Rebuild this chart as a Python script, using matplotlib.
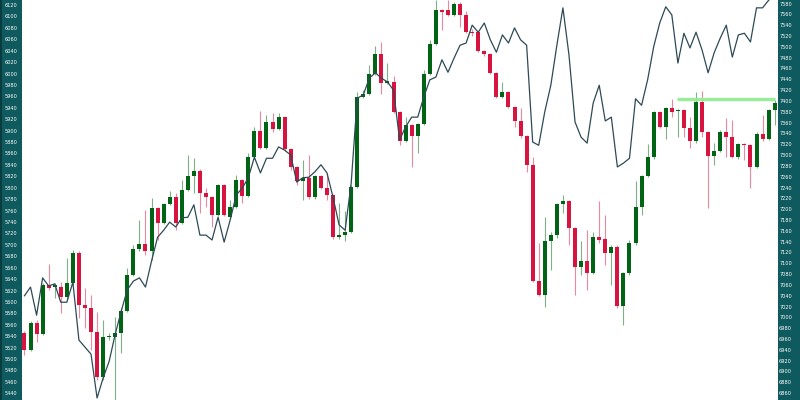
import matplotlib
matplotlib.use("Agg")
import matplotlib.pyplot as plt
from matplotlib.patches import Rectangle
import numpy as np

opens = [5545,5516,5564,5544,5630,5626,5627,5609,5634,5686,
5595,5589,5547,5469,5538,5538,5545,5585,5648,5692,
5702,5690,5764,5738,5771,5783,5738,5796,5821,5830,
5790,5783,5752,5804,5748,5766,5814,5786,5853,5900,
5869,5915,5903,5924,5867,5836,5812,5817,5783,5821,
5799,5787,5713,5717,5723,5802,5959,5965,5999,6035,
5983,5986,5933,5882,5909,5891,5912,5999,6052,6111,
6111,6102,6122,6102,6073,6073,6040,6034,6001,5959,
5967,5942,5916,5891,5840,5637,5612,5706,5717,5771,
5777,5729,5662,5672,5651,5713,5710,5686,5697,5593,
5650,5703,5767,5821,5853,5933,5907,5940,5934,5936,
5904,5881,5950,5897,5856,5865,5897,5889,5854,5876,
5874,5837,5894,5885,5936]

highs = [5549,5567,5568,5633,5666,5633,5635,5677,5691,5689,
5624,5612,5583,5568,5546,5574,5589,5659,5700,5744,
5761,5782,5766,5773,5794,5791,5814,5857,5852,5832,
5800,5785,5806,5806,5779,5822,5816,5860,5906,5935,
5927,5931,5931,5926,5869,5838,5849,5857,5823,5823,
5826,5789,5774,5760,5804,5968,5971,6015,6048,6055,
6018,5996,5935,5923,5911,5914,6006,6059,6128,6113,
6128,6126,6126,6110,6078,6075,6042,6036,6003,5985,
5969,5944,5940,5893,5854,5703,5749,5722,5773,5787,
5779,5731,5706,5726,5722,5776,5752,5699,5699,5652,
5709,5811,5823,5877,5935,5935,5942,5955,5938,5938,
5924,5968,5970,5899,5879,5901,5922,5919,5878,5878,
5876,5898,5927,5938,5954]

lows = [5507,5514,5530,5542,5621,5607,5580,5606,5632,5572,
5554,5516,5463,5463,5533,5420,5510,5582,5646,5690,
5682,5674,5709,5736,5769,5726,5736,5794,5791,5755,
5767,5732,5750,5750,5746,5764,5773,5784,5851,5867,
5867,5898,5901,5865,5831,5805,5779,5781,5781,5797,
5779,5711,5711,5706,5720,5800,5957,5963,5997,5964,
5981,5931,5875,5880,5837,5860,5909,5997,6050,6076,
6100,6100,6082,6071,6066,6038,6030,5999,5957,5957,
5940,5907,5887,5828,5635,5610,5592,5656,5712,5755,
5700,5612,5647,5621,5649,5703,5665,5630,5589,5560,
5648,5700,5752,5819,5851,5905,5885,5924,5889,5889,
5869,5879,5889,5764,5840,5863,5854,5852,5850,5849,
5799,5835,5881,5883,5910]

closes = [5515,5564,5544,5629,5624,5630,5609,5634,5686,5595,
5589,5547,5469,5538,5540,5545,5585,5648,5692,5702,
5690,5764,5738,5771,5783,5738,5796,5821,5830,5790,
5783,5752,5804,5752,5766,5814,5786,5853,5900,5869,
5915,5903,5924,5867,5836,5812,5817,5783,5821,5799,
5787,5713,5717,5723,5802,5959,5965,5999,6035,5983,
5987,5933,5882,5909,5891,5912,5999,6052,6111,6108,
6102,6122,6102,6073,6071,6040,6034,6001,5959,5967,
5942,5916,5891,5840,5637,5612,5706,5717,5771,5777,
5729,5662,5672,5651,5713,5709,5686,5697,5593,5650,
5703,5767,5821,5853,5933,5907,5940,5933,5936,5904,
5881,5950,5897,5856,5865,5897,5889,5854,5876,5874,
5837,5894,5885,5936,5949]

index_line = [7040,7056,7004,7073,7058,7062,7028,7028,7065,6958,
6945,6932,6851,6888,6919,6969,7012,7051,7067,7073,
7056,7104,7148,7161,7176,7167,7184,7185,7208,7152,
7152,7143,7185,7139,7180,7226,7239,7258,7296,7267,
7294,7294,7315,7309,7300,7250,7258,7259,7269,7282,
7267,7222,7171,7161,7248,7405,7411,7442,7452,7442,
7435,7420,7328,7352,7370,7370,7407,7439,7444,7476,
7453,7479,7503,7507,7540,7527,7544,7513,7490,7522,
7507,7535,7513,7503,7324,7318,7380,7429,7503,7572,
7485,7361,7333,7322,7396,7429,7363,7370,7278,7285,
7294,7404,7392,7439,7500,7544,7574,7559,7470,7525,
7498,7527,7494,7452,7489,7516,7540,7481,7522,7525,
7509,7572,7572,7586,7596]

resistance_level = 5956
resistance_start, resistance_end = 108, 124

left_ticks = list(range(5440, 6121, 20))
right_ticks = list(range(6860, 7581, 20))

TEAL = "#0f5a5e"
UP = "#006414"
DOWN = "#d6143f"

fig = plt.figure(figsize=(8, 4), dpi=100)
fig.patch.set_facecolor("white")

bg = fig.add_axes([0, 0, 1, 1], zorder=-10)
bg.set_xlim(0, 800); bg.set_ylim(0, 400); bg.axis("off")
bg.add_patch(Rectangle((0, 0), 22, 400, facecolor=TEAL, edgecolor="none"))
bg.add_patch(Rectangle((0, 0), 1.5, 400, facecolor="#083c3f", edgecolor="none"))
bg.add_patch(Rectangle((778, 0), 22, 400, facecolor=TEAL, edgecolor="none"))

ax = fig.add_axes([22/800, 0, 756/800, 1], zorder=1)
ax.set_facecolor("white")
ax2 = ax.twinx()

x = np.arange(len(opens))
o = np.array(opens, float); h = np.array(highs, float)
l = np.array(lows, float); c = np.array(closes, float)
up = c >= o
cols = np.where(up, UP, DOWN)

ax.vlines(x, l, h, colors=cols, linewidth=0.8, alpha=0.5, zorder=2)
bottoms = np.minimum(o, c)
heights = np.maximum(np.abs(c - o), 1.6)
ax.bar(x, heights, bottom=bottoms, width=0.66, color=cols, linewidth=0, zorder=3)

ax.hlines(resistance_level, resistance_start - 0.2, resistance_end, colors="#90ee90",
          linewidth=2.4, alpha=0.95, zorder=4)

ax2.plot(x, index_line, color="#2e4a56", linewidth=0.9, zorder=5)

ax.set_xlim(-0.41, 124.55)
ax.set_ylim(5428.3, 6128.75)
ax2.set_ylim(6847.3, 7586.5)

for a in (ax, ax2):
    for s in a.spines.values():
        s.set_visible(False)
ax.set_xticks([])
ax.set_yticks(left_ticks)
ax2.set_yticks(right_ticks)
ax.set_yticklabels([str(t) for t in left_ticks])
ax2.set_yticklabels([str(t) for t in right_ticks])
fam = ["Liberation Sans Narrow", "DejaVu Sans"]
ax.tick_params(axis="y", length=0, pad=3.2, colors="white", labelsize=3.6)
ax2.tick_params(axis="y", length=0, pad=0.8, colors="white", labelsize=3.6)
for lab in ax.get_yticklabels() + ax2.get_yticklabels():
    lab.set_family(fam)
    lab.set_zorder(20)

fig.savefig("out.png", dpi=100, facecolor="white")
